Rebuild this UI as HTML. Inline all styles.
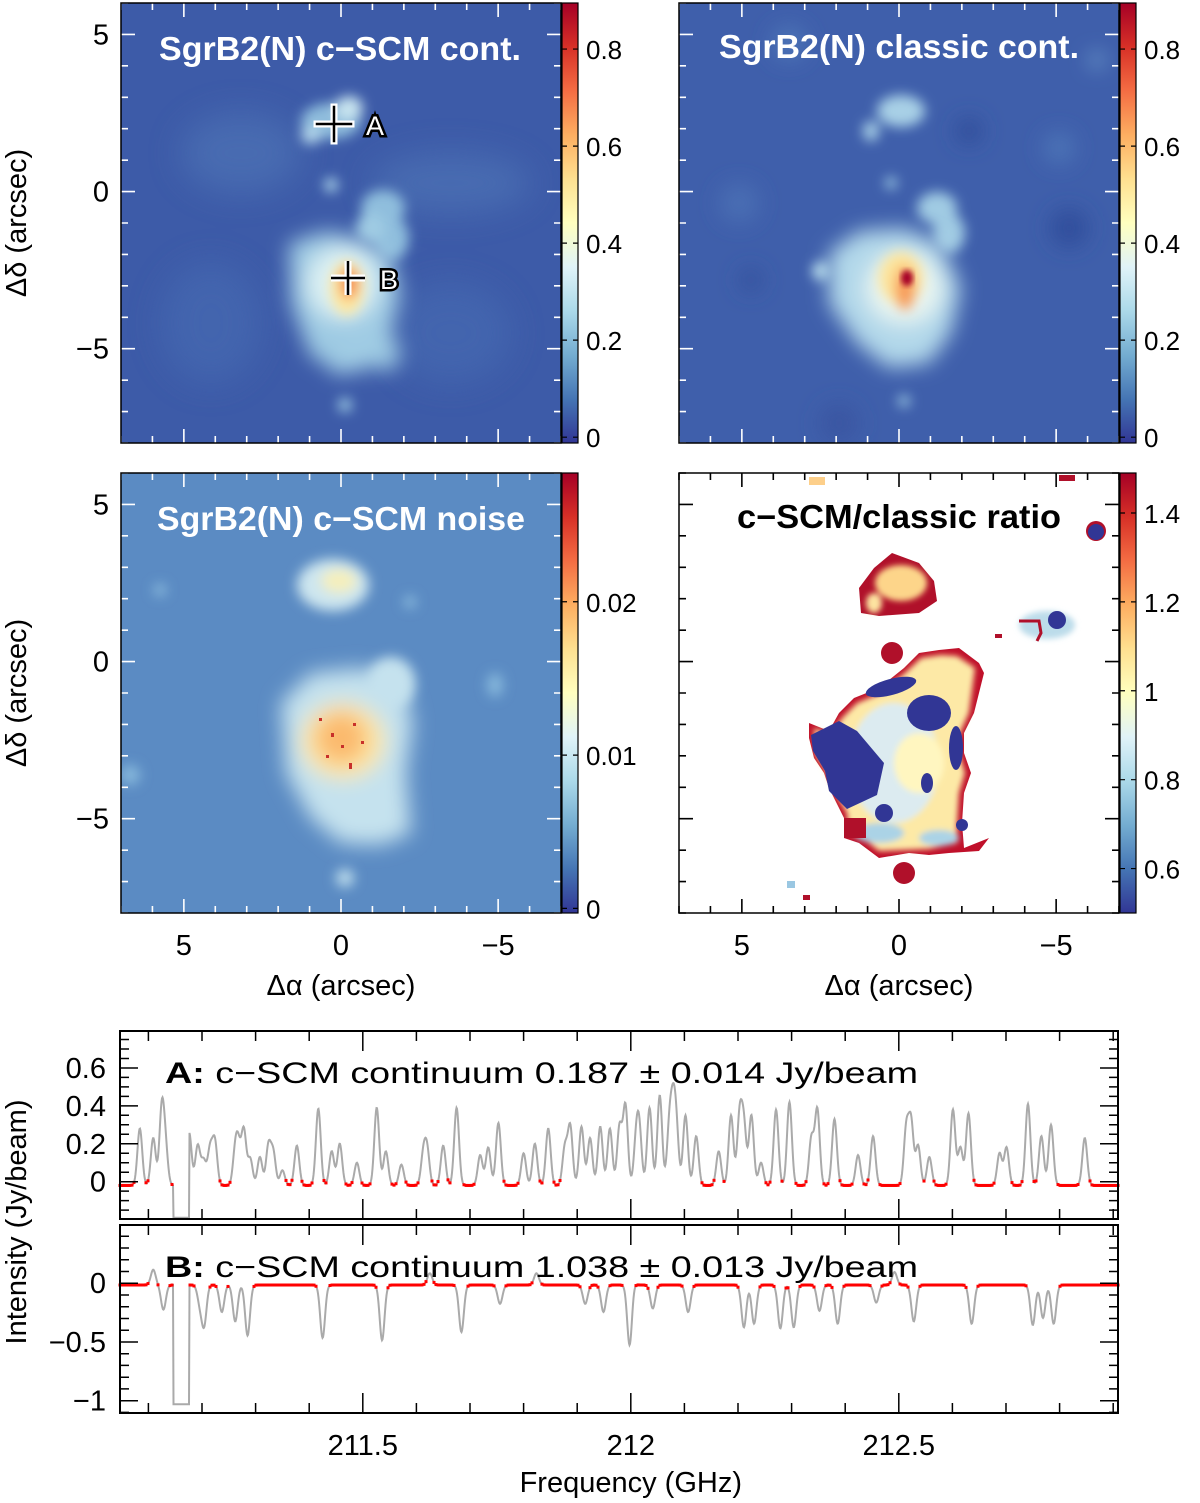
<!DOCTYPE html>
<html><head><meta charset="utf-8">
<style>
html,body{margin:0;padding:0;background:#fff;}
svg{display:block;font-family:"Liberation Sans",sans-serif;}
</style></head>
<body>
<svg id="fig" width="1200" height="1503" viewBox="0 0 1200 1503" xmlns="http://www.w3.org/2000/svg">
<defs>
  <filter id="b3" x="-20%" y="-20%" width="140%" height="140%"><feGaussianBlur stdDeviation="3"/></filter>
  <filter id="b6" x="-30%" y="-30%" width="160%" height="160%"><feGaussianBlur stdDeviation="6"/></filter>
  <filter id="b10" x="-50%" y="-50%" width="200%" height="200%"><feGaussianBlur stdDeviation="10"/></filter>
  <filter id="b16" x="-50%" y="-50%" width="200%" height="200%"><feGaussianBlur stdDeviation="16"/></filter>
  <linearGradient id="cmap" x1="0" y1="1" x2="0" y2="0">
    <stop offset="0" stop-color="#313695"/><stop offset="0.1" stop-color="#4575b4"/>
    <stop offset="0.2" stop-color="#74add1"/><stop offset="0.3" stop-color="#abd9e9"/>
    <stop offset="0.4" stop-color="#e0f3f8"/><stop offset="0.5" stop-color="#ffffbf"/>
    <stop offset="0.6" stop-color="#fee090"/><stop offset="0.7" stop-color="#fdae61"/>
    <stop offset="0.8" stop-color="#f46d43"/><stop offset="0.9" stop-color="#d73027"/>
    <stop offset="1" stop-color="#a50026"/>
  </linearGradient>
  <clipPath id="pclip"><rect x="0" y="0" width="440" height="440"/></clipPath>
</defs>

<!-- Panel 1: c-SCM continuum -->
<g transform="translate(121,3)">
  <g clip-path="url(#pclip)">
    <rect width="440" height="440" fill="#3d5ba8"/>
    <g filter="url(#b16)" opacity="0.8">
      <ellipse cx="120" cy="150" rx="60" ry="40" fill="#4b6fb4"/>
      <ellipse cx="330" cy="180" rx="80" ry="30" fill="#4b6fb4"/>
      <ellipse cx="90" cy="320" rx="50" ry="60" fill="#4568b0"/>
      <ellipse cx="330" cy="330" rx="60" ry="50" fill="#4568b0"/>
    </g>
    <g filter="url(#b6)">
      <ellipse cx="210" cy="118" rx="30" ry="18" fill="#8ebcdc"/>
      <ellipse cx="228" cy="105" rx="14" ry="12" fill="#c8e4ef"/>
      <ellipse cx="190" cy="132" rx="10" ry="9" fill="#b2d6ea"/>
      <circle cx="210" cy="182" r="7" fill="#a9d2e8"/>
      <ellipse cx="262" cy="205" rx="22" ry="18" fill="#8fbedd"/>
      <ellipse cx="270" cy="235" rx="18" ry="22" fill="#8fbedd"/>
      <ellipse cx="250" cy="225" rx="15" ry="15" fill="#9fcbe3"/>
    </g>
    <g filter="url(#b10)">
      <polygon points="168,240 205,228 240,235 270,250 280,290 270,330 250,365 215,372 185,340 170,300" fill="#a0cce4"/>
      <ellipse cx="222" cy="280" rx="36" ry="36" fill="#dcf0f3"/>
      <ellipse cx="265" cy="350" rx="14" ry="18" fill="#9cc9e2"/>
      <ellipse cx="205" cy="345" rx="18" ry="14" fill="#9cc9e2"/>
    </g>
    <g filter="url(#b6)">
      <ellipse cx="226" cy="285" rx="17" ry="27" fill="#fde7a0"/>
      <ellipse cx="228" cy="280" rx="9" ry="16" fill="#f58a4e"/>
      <circle cx="224" cy="402" r="7" fill="#9ac7e2"/>
    </g>
  </g>
  <text x="38" y="57" fill="#fff" font-weight="bold" font-size="33" textLength="362" lengthAdjust="spacingAndGlyphs">SgrB2(N) c−SCM cont.</text>
  <g stroke-linecap="square">
    <path d="M196 121h34M213 104v34" stroke="#fff" stroke-width="7"/>
    <path d="M196 121h34M213 104v34" stroke="#000" stroke-width="2.5"/>
    <text x="245" y="132" font-size="27" fill="#fff" stroke="#000" stroke-width="5" paint-order="stroke">A</text>
  </g>
  <g>
    <path d="M210 275h34M227 258v34" stroke="#fff" stroke-width="7"/>
    <path d="M210 275h34M227 258v34" stroke="#000" stroke-width="2.5"/>
    <text x="259" y="286" font-size="27" fill="#fff" stroke="#000" stroke-width="5" paint-order="stroke">B</text>
  </g>
  <g class="ticks" data-tick="#fff"></g>
  <rect width="440" height="440" fill="none" stroke="#000" stroke-width="1.5"/>
</g>

<!-- Panel 2: classic continuum -->
<g transform="translate(679,3)">
  <g clip-path="url(#pclip)">
    <rect width="440" height="440" fill="#3f5fab"/>
    <g filter="url(#b10)">
      <circle cx="290" cy="128" r="14" fill="#314f9c"/>
      <circle cx="390" cy="225" r="20" fill="#324f9d"/>
      <circle cx="72" cy="277" r="12" fill="#34529f"/>
      <circle cx="110" cy="40" r="18" fill="#4c72b6"/>
      <circle cx="380" cy="145" r="16" fill="#4c72b6"/>
      <circle cx="60" cy="200" r="20" fill="#4a6db3"/>
      <circle cx="160" cy="420" r="20" fill="#3a56a3"/>
      <circle cx="418" cy="57" r="7" fill="#7aaed6"/>
    </g>
    <g filter="url(#b6)">
      <ellipse cx="222" cy="108" rx="24" ry="16" fill="#a8d0e6"/>
      <ellipse cx="192" cy="128" rx="8" ry="10" fill="#a8d0e6"/>
      <circle cx="212" cy="180" r="6" fill="#9ac7e2"/>
      <ellipse cx="258" cy="205" rx="20" ry="16" fill="#a0cbe3"/>
      <ellipse cx="270" cy="230" rx="16" ry="20" fill="#a0cbe3"/>
      <ellipse cx="142" cy="268" rx="9" ry="9" fill="#b6dbeb"/>
    </g>
    <g filter="url(#b10)">
      <polygon points="150,250 180,228 225,225 262,240 282,285 272,330 250,360 210,365 178,340 150,300" fill="#b2d8ea"/>
      <ellipse cx="225" cy="285" rx="38" ry="36" fill="#e9f5f1"/>
    </g>
    <g filter="url(#b6)">
      <ellipse cx="222" cy="275" rx="22" ry="26" fill="#fde49a"/>
      <ellipse cx="226" cy="285" rx="10" ry="22" fill="#f79a58"/>
      <circle cx="225" cy="398" r="6" fill="#9ac7e2"/>
    </g>
    <ellipse cx="228" cy="275" rx="6" ry="8" fill="#a50026" filter="url(#b3)"/>
  </g>
  <text x="40" y="55" fill="#fff" font-weight="bold" font-size="33" textLength="360" lengthAdjust="spacingAndGlyphs">SgrB2(N) classic cont.</text>
  <g class="ticks" data-tick="#fff"></g>
  <rect width="440" height="440" fill="none" stroke="#000" stroke-width="1.5"/>
</g>

<!-- Panel 3: noise -->
<g transform="translate(121,473)">
  <g clip-path="url(#pclip)">
    <rect width="440" height="440" fill="#5b8bc3"/>
    <g filter="url(#b6)">
      <circle cx="39" cy="117" r="6" fill="#8ebedf"/>
      <circle cx="289" cy="129" r="6" fill="#8ebedf"/>
      <ellipse cx="374" cy="212" rx="8" ry="12" fill="#86b8dc"/>
      <circle cx="9" cy="302" r="10" fill="#86b8dc"/>
      <ellipse cx="212" cy="112" rx="36" ry="26" fill="#cde6ef"/>
      <ellipse cx="218" cy="108" rx="18" ry="12" fill="#f5efbc"/>
      <ellipse cx="270" cy="210" rx="24" ry="26" fill="#c5e2ee"/>
      <circle cx="224" cy="405" r="9" fill="#bcdcec"/>
    </g>
    <g filter="url(#b10)">
      <polygon points="160,230 190,200 240,195 280,205 292,250 285,300 290,360 260,372 220,370 190,345 165,300" fill="#c5e2ee"/>
      <ellipse cx="222" cy="268" rx="42" ry="38" fill="#fde8a4"/>
      <ellipse cx="220" cy="265" rx="26" ry="26" fill="#fbb96d"/>
    </g>
    <g fill="#c8302a">
      <rect x="210" y="260" width="3" height="4"/><rect x="220" y="272" width="3" height="3"/>
      <rect x="232" y="250" width="3" height="3"/><rect x="205" y="282" width="3" height="3"/>
      <rect x="228" y="290" width="3" height="6"/><rect x="198" y="245" width="3" height="3"/>
      <rect x="240" y="268" width="3" height="3"/>
    </g>
  </g>
  <text x="36" y="57" fill="#fff" font-weight="bold" font-size="33" textLength="368" lengthAdjust="spacingAndGlyphs">SgrB2(N) c−SCM noise</text>
  <g class="ticks" data-tick="#fff"></g>
  <rect width="440" height="440" fill="none" stroke="#000" stroke-width="1.5"/>
</g>

<!-- Panel 4: ratio -->
<g transform="translate(679,473)">
  <g clip-path="url(#pclip)">
    <rect width="440" height="440" fill="#fff"/>
    <polygon points="180,115 195,95 213,80 240,90 255,108 258,128 240,140 200,143 182,140" fill="#b0102a"/>
    <g filter="url(#b3)">
      <ellipse cx="222" cy="110" rx="26" ry="18" fill="#fdd58a"/>
      <ellipse cx="195" cy="130" rx="8" ry="10" fill="#fde3a0"/>
    </g>
    <circle cx="213" cy="180" r="11" fill="#b0102a"/>
    <circle cx="225" cy="400" r="11" fill="#b0102a"/>
    <polygon points="130,250 150,258 160,240 175,225 200,215 225,195 240,180 260,177 280,175 300,190 305,200 295,240 285,260 285,280 292,300 285,320 283,350 285,375 310,365 300,378 270,380 250,382 230,380 200,385 180,370 165,365 165,345 150,315 145,300 135,285 130,265" fill="#c0102a"/>
    <g filter="url(#b3)">
      <polygon points="135,255 152,262 163,245 178,230 202,220 226,200 242,185 262,182 278,183 296,195 290,240 280,262 280,280 286,300 280,320 278,350 278,370 250,376 200,378 182,364 170,360 168,340 152,312 147,298 137,282" fill="#fde9a6"/>
      <ellipse cx="215" cy="290" rx="45" ry="60" fill="#dcebf0"/>
      <ellipse cx="240" cy="290" rx="25" ry="30" fill="#fff6c0"/>
      <ellipse cx="200" cy="360" rx="25" ry="10" fill="#abd3e6"/>
      <ellipse cx="260" cy="365" rx="20" ry="8" fill="#abd3e6"/>
    </g>
    <polygon points="132,262 160,248 178,258 205,290 198,322 168,336 150,318 146,298 134,278" fill="#313695"/>
    <ellipse cx="250" cy="240" rx="22" ry="18" fill="#313695"/>
    <ellipse cx="277" cy="275" rx="7" ry="22" fill="#313695"/>
    <ellipse cx="212" cy="214" rx="26" ry="8" transform="rotate(-15 212 214)" fill="#313695"/>
    <ellipse cx="248" cy="310" rx="6" ry="10" fill="#313695"/>
    <circle cx="205" cy="340" r="9" fill="#313695"/>
    <circle cx="283" cy="352" r="6" fill="#313695"/>
    <rect x="165" y="345" width="22" height="20" fill="#b0102a"/>
    <g filter="url(#b3)">
      <ellipse cx="368" cy="152" rx="28" ry="14" fill="#bcdcea"/>
    </g>
    <circle cx="378" cy="147" r="9" fill="#313695"/>
    <path d="M340 148 L360 148 L362 160 L358 168" stroke="#b0102a" stroke-width="3" fill="none"/>
    <circle cx="417" cy="58" r="10" fill="#b0102a"/>
    <circle cx="417" cy="59" r="8" fill="#313695"/>
    <rect x="380" y="2" width="16" height="6" fill="#b0102a"/>
    <rect x="130" y="4" width="16" height="8" fill="#fdcf8a"/>
    <rect x="316" y="161" width="7" height="4" fill="#b0102a"/>
    <rect x="108" y="408" width="8" height="7" fill="#9ac7e2"/>
    <rect x="124" y="422" width="7" height="5" fill="#b0102a"/>
  </g>
  <text x="58" y="55" fill="#000" font-weight="bold" font-size="33" textLength="324" lengthAdjust="spacingAndGlyphs">c−SCM/classic ratio</text>
  <g class="ticks" data-tick="#000"></g>
  <rect width="440" height="440" fill="none" stroke="#000" stroke-width="1.5"/>
</g>

<g id="axes-text" font-size="29" fill="#000"></g>
<g id="spectra"></g>
</svg>

<script>
// ---- colorbar data ----
const cb1Ticks = [0, 0.2, 0.4, 0.6, 0.8];
const cb1Labels = ["0", "0.2", "0.4", "0.6", "0.8"];
const cb1Range = [-0.012, 0.895];
const cb3Ticks = [0, 0.01, 0.02];
const cb3Labels = ["0", "0.01", "0.02"];
const cb3Range = [-0.0003, 0.0284];
const cb4Ticks = [0.6, 0.8, 1.0, 1.2, 1.4];
const cb4Labels = ["0.6", "0.8", "1", "1.2", "1.4"];
const cb4Range = [0.5, 1.49];

// ---- map axis data ----
const xTickVals = [5, 0, -5];
const yTickVals = [5, 0, -5];
const xRange = [7, -7];
const yRange = [6, -8];

// ---- spectrum data (GHz, Jy/beam) ----
const freqRange = [211.047, 212.909];
const freqTicks = [211.5, 212, 212.5];
const freqLabels = ["211.5", "212", "212.5"];
const aYTicks = [0, 0.2, 0.4, 0.6];
const aYLabels = ["0", "0.2", "0.4", "0.6"];
const aRange = [-0.197, 0.795];
const bYTicks = [0, -0.5, -1];
const bYLabels = ["0", "−0.5", "−1"];
const bRange = [-1.105, 0.496];
const lineFreqA = [211.084,211.109,211.125,211.132,211.176,211.192,211.203,211.215,211.224,211.262,211.268,211.278,211.290,211.308,211.324,211.333,211.350,211.377,211.417,211.442,211.457,211.489,211.526,211.543,211.572,211.613,211.620,211.650,211.675,211.719,211.734,211.753,211.800,211.821,211.846,211.877,211.887,211.908,211.924,211.943,211.961,211.979,211.990,212.010,212.016,212.035,212.054,212.072,212.079,212.085,212.102,212.122,212.164,212.187,212.203,212.211,212.225,212.243,212.271,212.296,212.337,212.348,212.380,212.424,212.452,212.514,212.523,212.536,212.557,212.601,212.615,212.630,212.688,212.701,212.741,212.766,212.784,212.847];
const lineAmpA = [0.30,0.25,0.40,0.18,0.28,0.21,0.13,0.19,0.23,0.17,0.18,0.29,0.14,0.15,0.21,0.17,0.08,0.21,0.405,0.18,0.22,0.12,0.41,0.18,0.11,0.16,0.18,0.21,0.41,0.16,0.20,0.33,0.17,0.22,0.30,0.20,0.31,0.31,0.25,0.31,0.30,0.31,0.42,0.22,0.27,0.41,0.475,0.30,0.34,0.27,0.37,0.26,0.18,0.37,0.36,0.31,0.37,0.12,0.40,0.44,0.25,0.40,0.35,0.16,0.26,0.30,0.33,0.21,0.15,0.40,0.20,0.38,0.17,0.20,0.43,0.26,0.32,0.25];
const lineFreqB = [211.128,211.196,211.204,211.237,211.262,211.285,211.425,211.536,211.684,211.756,211.915,211.949,211.998,212.041,212.107,212.211,212.230,212.279,212.304,212.352,212.386,212.458,212.528,212.636,212.750,212.769,212.789,211.109,211.625,211.824,212.002,212.492];
const lineAmpB = [-0.21,-0.15,-0.33,-0.23,-0.31,-0.43,-0.45,-0.47,-0.40,-0.16,-0.16,-0.23,-0.55,-0.20,-0.23,-0.36,-0.33,-0.37,-0.36,-0.22,-0.33,-0.15,-0.31,-0.33,-0.34,-0.28,-0.33,0.13,0.10,0.10,0.06,0.11];
const absStart = [211.146];
const absEnd = [211.176];
const absDepthA = [-0.19];
const absDepthB = [-1.03];
const baselineA = [-0.02];
const baselineB = [-0.015];

const NS = "http://www.w3.org/2000/svg";
function mk(tag, attrs, parent) {
  const e = document.createElementNS(NS, tag);
  for (const k in attrs) e.setAttribute(k, attrs[k]);
  if (parent) parent.appendChild(e);
  return e;
}
const svg = document.getElementById('fig');
const axText = document.getElementById('axes-text');

// ---- map ticks ----
const pxPerArc = 440 / 14;
function mx(v) { return (xRange[0] - v) * pxPerArc; }
function my(v) { return (yRange[0] - v) * pxPerArc; }
document.querySelectorAll('g.ticks').forEach(g => {
  const c = g.getAttribute('data-tick');
  let d = '';
  for (let v = -7; v <= 7; v++) {
    const x = mx(v), L = (v % 5 === 0) ? 14 : 7;
    d += `M${x} 0v${L}M${x} 440v${-L}`;
  }
  for (let v = -8; v <= 6; v++) {
    const y = my(v), L = (v % 5 === 0) ? 14 : 7;
    d += `M0 ${y}h${L}M440 ${y}h${-L}`;
  }
  const p = mk('path', {d: d, stroke: c, 'stroke-width': 1.6, fill: 'none'}, g);
  
  
});

// ---- map axis labels ----
const panels = [[121,3],[679,3],[121,473],[679,473]];
panels.forEach((p, i) => {
  if (i % 2 === 0) {
    yTickVals.forEach(v => {
      const t = mk('text', {x: p[0] - 12, y: p[1] + my(v) + 10, 'text-anchor': 'end'}, axText);
      t.textContent = v < 0 ? '−' + Math.abs(v) : String(v);
      
      
    });
    const cy = p[1] + 220;
    const yl = mk('text', {x: 0, y: 0, transform: `translate(26,${cy}) rotate(-90)`, 'text-anchor': 'middle'}, axText);
    yl.textContent = 'Δδ (arcsec)';
    
    
  }
  if (i >= 2) {
    xTickVals.forEach(v => {
      const t = mk('text', {x: p[0] + mx(v), y: p[1] + 440 + 42, 'text-anchor': 'middle'}, axText);
      t.textContent = v < 0 ? '−' + Math.abs(v) : String(v);
      
      
    });
    const xl = mk('text', {x: p[0] + 220, y: p[1] + 440 + 82, 'text-anchor': 'middle'}, axText);
    xl.textContent = 'Δα (arcsec)';
    
    
  }
});

// ---- colorbars ----
function colorbar(px, py, range, ticks, labels, name) {
  const g = mk('g', {}, svg);
  
  
  const x = px + 441, w = 16;
  mk('rect', {x: x, y: py, width: w, height: 440, fill: 'url(#cmap)', stroke: '#000', 'stroke-width': 1.2}, g);
  const sc = v => py + 440 - (v - range[0]) / (range[1] - range[0]) * 440;
  ticks.forEach((v, i) => {
    const y = sc(v);
    mk('path', {d: `M${x} ${y}h5M${x + w} ${y}h-5`, stroke: '#000', 'stroke-width': 1.2}, g);
    const t = mk('text', {x: x + w + 8, y: y + 10, 'font-size': 26}, g);
    t.textContent = labels[i];
    
    
  });
}
colorbar(121, 3, cb1Range, cb1Ticks, cb1Labels, 'colorbar-cscm-continuum');
colorbar(679, 3, cb1Range, cb1Ticks, cb1Labels, 'colorbar-classic-continuum');
colorbar(121, 473, cb3Range, cb3Ticks, cb3Labels, 'colorbar-noise');
colorbar(679, 473, cb4Range, cb4Ticks, cb4Labels, 'colorbar-ratio');

// ---- spectra ----
const SX0 = 120, SX1 = 1118;
const sigma = 0.0045;
function fx(f) { return SX0 + (f - freqRange[0]) / (freqRange[1] - freqRange[0]) * (SX1 - SX0); }
function model(f, freqs, amps, base, depth) {
  for (let k = 0; k < absStart.length; k++) {
    if (f >= absStart[k] && f <= absEnd[k]) return depth[k];
  }
  let v = base[0];
  for (let k = 0; k < freqs.length; k++) {
    const d = f - freqs[k];
    v += amps[k] * Math.exp(-d * d / (2 * sigma * sigma));
  }
  return v;
}
function spectrum(top, bot, range, yTicks, yLabels, minorStep, freqs, amps, base, depth, label, name, showX) {
  const sp = document.getElementById('spectra');
  const g = mk('g', {}, sp);
  
  
  const sy = v => bot - (v - range[0]) / (range[1] - range[0]) * (bot - top);
  mk('clipPath', {id: name + '-clip'}, g).appendChild(mk('rect', {x: SX0, y: top, width: SX1 - SX0, height: bot - top}));
  let d = '';
  const reds = [];
  for (let x = SX0; x <= SX1; x += 0.5) {
    const f = freqRange[0] + (x - SX0) / (SX1 - SX0) * (freqRange[1] - freqRange[0]);
    const v = model(f, freqs, amps, base, depth);
    d += (x === SX0 ? 'M' : 'L') + x.toFixed(1) + ' ' + sy(v).toFixed(1);
    if (Math.abs(v - base[0]) < 0.03 && (x * 2) % 4 === 0) reds.push([x, sy(v)]);
  }
  const line = mk('path', {d: d, stroke: '#aaaaaa', 'stroke-width': 2, fill: 'none', 'clip-path': `url(#${name}-clip)`}, g);
  
  
  const rg = mk('g', {fill: '#ff0000'}, g);
  
  
  reds.forEach(p => mk('rect', {x: p[0] - 1.5, y: p[1] - 1.5, width: 3, height: 3}, rg));
  let td = '';
  for (let f = 211.1; f < freqRange[1]; f += 0.1) {
    const x = fx(f), major = Math.abs(Math.round(f * 2) - f * 2) < 1e-6;
    const L = major ? 20 : 10;
    td += `M${x.toFixed(1)} ${top}v${L}M${x.toFixed(1)} ${bot}v${-L}`;
  }
  const lo = Math.ceil(range[0] / minorStep), hi = Math.floor(range[1] / minorStep);
  for (let k = lo; k <= hi; k++) {
    const v = k * minorStep, y = sy(v);
    const major = yTicks.some(t => Math.abs(t - v) < 1e-6);
    const L = major ? 18 : 9;
    td += `M${SX0} ${y.toFixed(1)}h${L}M${SX1} ${y.toFixed(1)}h${-L}`;
  }
  mk('path', {d: td, stroke: '#000', 'stroke-width': 1.5, fill: 'none'}, g);
  mk('rect', {x: SX0, y: top, width: SX1 - SX0, height: bot - top, fill: 'none', stroke: '#000', 'stroke-width': 2}, g);
  yTicks.forEach((v, i) => {
    const t = mk('text', {x: SX0 - 14, y: sy(v) + 10, 'text-anchor': 'end', 'font-size': 29}, g);
    t.textContent = yLabels[i];
    
    
  });
  const lt = mk('text', {x: 165, y: top + 52, 'font-size': 30, textLength: 753, lengthAdjust: 'spacingAndGlyphs'}, g);
  lt.innerHTML = label;
  
  
  if (showX) {
    freqTicks.forEach((f, i) => {
      const t = mk('text', {x: fx(f), y: bot + 42, 'text-anchor': 'middle', 'font-size': 29}, g);
      t.textContent = freqLabels[i];
      
      
    });
    const xt = mk('text', {x: fx(212), y: bot + 79, 'text-anchor': 'middle', 'font-size': 29}, g);
    xt.textContent = 'Frequency (GHz)';
    
    
  }
}
spectrum(1031, 1219, aRange, aYTicks, aYLabels, 0.05, lineFreqA, lineAmpA, baselineA, absDepthA,
  '<tspan font-weight="bold">A:</tspan> c−SCM continuum 0.187 ± 0.014 Jy/beam', 'spectrum-a', false);
spectrum(1225, 1413, bRange, bYTicks, bYLabels, 0.1, lineFreqB, lineAmpB, baselineB, absDepthB,
  '<tspan font-weight="bold">B:</tspan> c−SCM continuum 1.038 ± 0.013 Jy/beam', 'spectrum-b', true);
const iy = mk('text', {x: 0, y: 0, transform: 'translate(26,1222) rotate(-90)', 'text-anchor': 'middle', 'font-size': 29}, svg);
iy.textContent = 'Intensity (Jy/beam)';


</script>
</body></html>
